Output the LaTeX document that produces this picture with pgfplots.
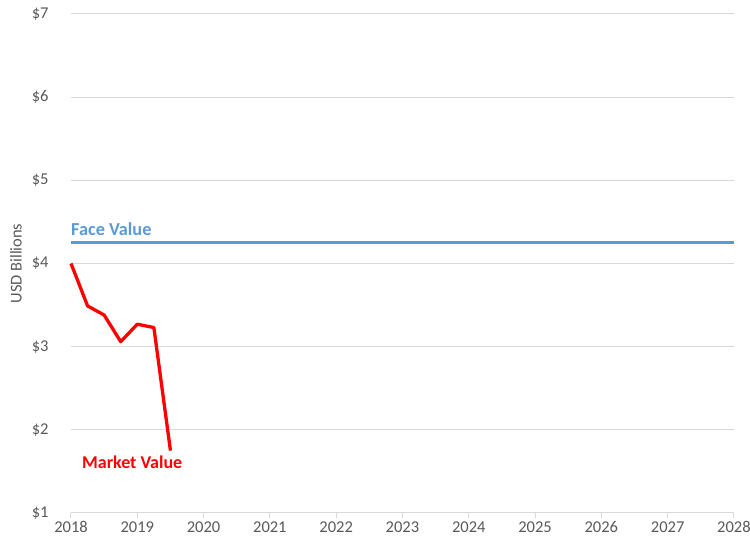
\documentclass[border=0pt]{standalone}
\usepackage{pgfplots}
\pgfplotsset{compat=1.18}
\usepackage{fontspec}
\setmainfont{Carlito}
\definecolor{txtgray}{HTML}{595959}
\definecolor{gridgray}{HTML}{D9D9D9}
\definecolor{faceblue}{HTML}{5B9BD5}
\definecolor{mktred}{HTML}{FF0000}
\begin{document}
\begin{tikzpicture}
\begin{axis}[
  scale only axis,
  width=663pt, height=499pt,
  xmin=2018, xmax=2028, ymin=1, ymax=7,
  xtick={2018,2019,...,2028},
  ytick={1,2,...,7},
  /pgf/number format/assume math mode=true,
  /pgf/number format/1000 sep={},
  xticklabel style={font=\fontsize{16.5}{19}\selectfont, text=txtgray},
  yticklabel style={font=\fontsize{16.5}{19}\selectfont, text=txtgray, xshift=-14pt},
  yticklabel={\$\pgfmathprintnumber{\tick}},
  ymajorgrids,
  grid style={gridgray, line width=1pt},
  axis lines*=left,
  y axis line style={draw=none},
  x axis line style={gridgray, line width=1pt},
  ytick style={draw=none},
  xtick style={gridgray, line width=1pt},
  tick align=outside,
  major tick length=5pt,
  ylabel={USD Billions},
  ylabel style={at={(axis description cs:-0.083,0.5)}, anchor=center, font=\fontsize{16.5}{19}\selectfont, text=txtgray},
  clip=false,
]
\addplot[faceblue, line width=3pt, no markers] coordinates {(2018,4.25) (2028,4.25)};
\addplot[mktred, line width=3.3pt, no markers, line join=round] coordinates {
 (2018,4.00) (2018.25,3.49) (2018.5,3.38) (2018.75,3.06) (2019,3.27) (2019.25,3.23) (2019.5,1.75)};
\node[anchor=south west, inner sep=0pt, text=faceblue, font=\bfseries\fontsize{18.3}{20}\selectfont] at (axis cs:2018,4.33) {Face Value};
\node[anchor=west, inner sep=0pt, text=mktred, font=\bfseries\fontsize{18}{20}\selectfont] at (axis cs:2018.165,1.615) {Market Value};
\end{axis}
\pgfresetboundingbox
\path ([shift={(-71pt,-27pt)}]current axis.south west) rectangle ([shift={(16pt,14pt)}]current axis.north east);
\end{tikzpicture}
\end{document}
